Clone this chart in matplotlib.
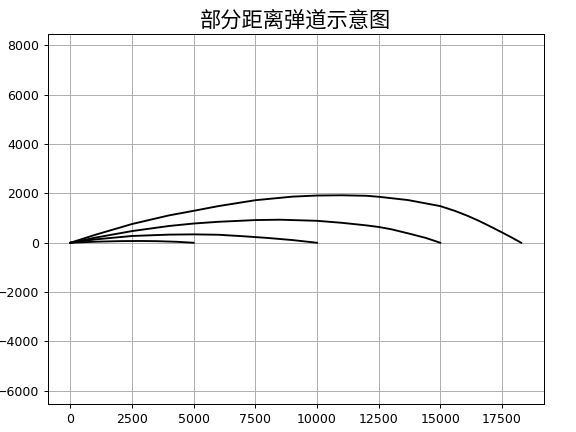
import matplotlib
matplotlib.use("Agg")
import matplotlib.pyplot as plt

# trajectories (range -> height)
x_5000 = [0, 1000, 2000, 2800, 3500, 4300, 5000]
y_5000 = [0, 42, 66, 72, 65, 40, 0]

x_10000 = [0, 1000, 2500, 4000, 5000, 6000, 7000, 8000, 9000, 10000]
y_10000 = [0, 135, 275, 330, 340, 325, 265, 195, 110, 0]

x_15000 = [0, 1000, 2500, 4000, 5000, 6000, 7500, 8500, 10000, 11000, 12000,
           12500, 13000, 13700, 14400, 15000]
y_15000 = [0, 205, 474, 680, 780, 850, 920, 935, 890, 810, 705,
           640, 550, 380, 200, 0]

x_18280 = [0, 1000, 2500, 4000, 5000, 6000, 7500, 9000, 10000, 11000, 12000,
           12500, 13700, 15000, 15600, 16100, 16560, 16920, 17500, 17900, 18280]
y_18280 = [0, 320, 760, 1110, 1295, 1486, 1725, 1870, 1915, 1925, 1905,
           1865, 1730, 1486, 1290, 1095, 890, 715, 420, 210, 0]

fig, ax = plt.subplots(figsize=(6.4, 4.8), dpi=90)
fig.subplots_adjust(left=0.083, right=0.944, top=0.921, bottom=0.065)

for xs, ys in [(x_5000, y_5000), (x_10000, y_10000),
               (x_15000, y_15000), (x_18280, y_18280)]:
    ax.plot(xs, ys, color='black', linewidth=1.5)

ax.set_aspect('equal', adjustable='datalim')
ax.grid(True)
ax.set_title('部分距离弹道示意图', fontsize=17,
             family=['Noto Sans CJK SC', 'DejaVu Sans'])

fig.savefig('out.png', dpi=90)
